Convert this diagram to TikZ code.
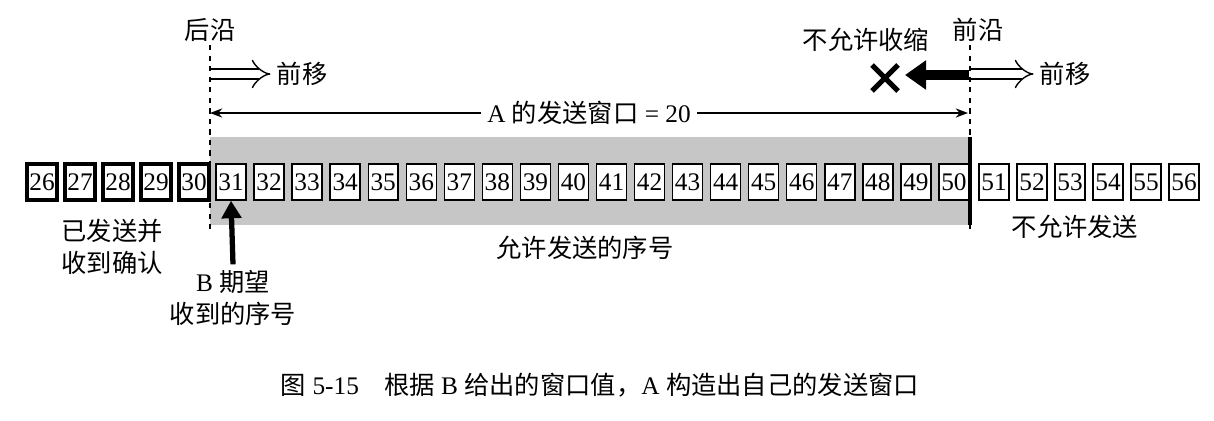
\documentclass[tikz,border=0pt]{standalone}
\usepackage{fontspec}
\setmainfont{Liberation Serif}
\newfontfamily\cjk{Noto Sans CJK SC}
\usetikzlibrary{positioning,arrows.meta,calc}

\tikzset{
    seqbox/.style={draw, line width=0.8pt, fill=white, minimum width=0.6cm, minimum height=0.72cm, inner sep=0pt, font=\Large},
    ackbox/.style={seqbox, line width=2.2pt},
    edge/.style={dashed, line width=1pt},
    hollow/.style={double, double distance=5pt, line width=0.8pt, -{Implies[length=6pt]}},
    lbl/.style={font=\cjk\Large, align=center}
}

\begin{document}
\begin{tikzpicture}[x=0.02cm, y=-0.02cm]
    \useasboundingbox (0,0) rectangle (1214,420);

    % Window band
    \fill[gray!45] (210,137) rectangle (970,225);
    \draw[line width=2pt] (970,137) -- (970,225);

    % Sequence numbers
    \foreach \n in {26,...,30} {
        \node[ackbox] (s\n) at ({42+(\n-26)*38},182) {\n};
    }
    \foreach \n in {31,...,50} {
        \node[seqbox] (s\n) at ({231+(\n-31)*38.05},182) {\n};
    }
    \foreach \n in {51,...,56} {
        \node[seqbox] (s\n) at ({994+(\n-51)*38},182) {\n};
    }

    % Edges
    \coordinate (rtop) at (210,45);
    \coordinate (rbot) at (210,232);
    \coordinate (ftop) at (970,45);
    \coordinate (fbot) at (970,232);
    \draw[edge] (rtop) -- (rbot);
    \draw[edge] (ftop) -- (fbot);
    \node[lbl] (rear) at (210,30) {后沿};
    \node[lbl] (front) at (978,30) {前沿};

    % Moving forward
    \node[lbl] (mv1) at (302,74) {前移};
    \draw[hollow] (211,74) -- (mv1.west);
    \node[lbl] (mv2) at (1065,74) {前移};
    \draw[hollow] (971,74) -- (mv2.west);

    % Shrinking not allowed
    \node[lbl] (noshrink) at (866,40) {不允许收缩};
    \coordinate (cross) at (885,78);
    \draw[line width=6pt, -{Triangle[length=12pt, width=16pt]}] (969,75) -- (905,75);
    \draw[line width=3pt] ($(cross)+(-13,-13)$) -- ($(cross)+(13,13)$)
        ($(cross)+(-13,13)$) -- ($(cross)+(13,-13)$);

    % Window size
    \coordinate (wl) at (210,113);
    \coordinate (wr) at (968,113);
    \draw[{Stealth[length=7pt]}-{Stealth[length=7pt]}, line width=0.8pt] (wl) -- node[fill=white, font=\Large] {A {\cjk 的发送窗口} = 20} (wr);

    % Labels
    \node[lbl] (acked) at (112,247) {已发送并\\收到确认};
    \node[lbl] (allowed) at (585,248) {允许发送的序号};
    \node[lbl] (notallowed) at (1075,227) {不允许发送};
    \node[font=\Large, align=center] (expect) at (233,298) {B {\cjk 期望}\\{\cjk 收到的序号}};
    \draw[line width=3pt, -{Triangle[length=10pt, width=11pt]}] (expect.north) -- (s31.south);

    % Caption
    \node[font=\Large] (caption) at (600,385) {{\cjk 图} 5-15\quad {\cjk 根据} B {\cjk 给出的窗口值，}A {\cjk 构造出自己的发送窗口}};
\end{tikzpicture}
\end{document}
